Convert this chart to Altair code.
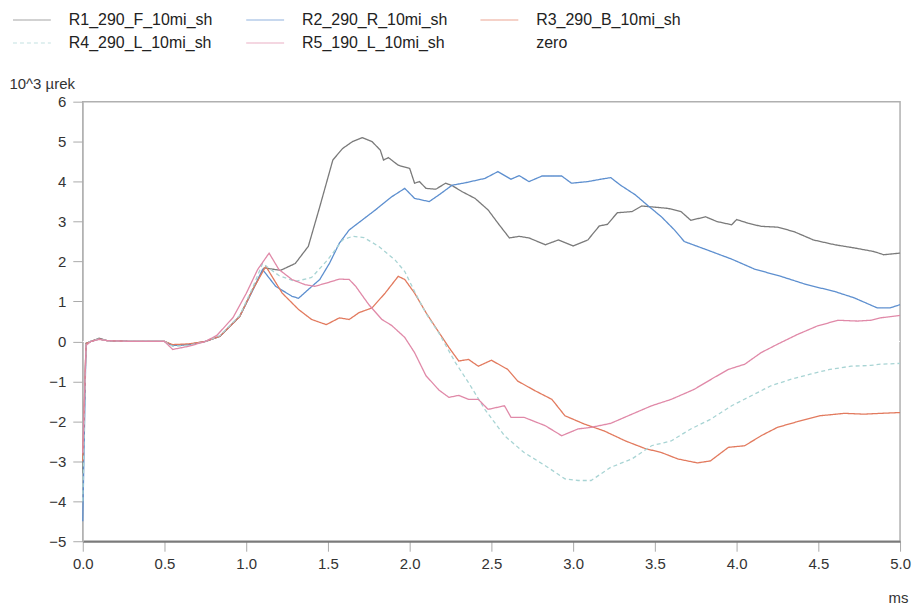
import altair as alt
import pandas as pd

SERIES = ["R1_290_F_10mi_sh", "R2_290_R_10mi_sh", "R3_290_B_10mi_sh",
          "R4_290_L_10mi_sh", "R5_190_L_10mi_sh", "zero"]
COLORS = ["#7a7a7a", "#5d8fcf", "#e27a5e", "#a8d4d4", "#e089a8", "#ffffff"]

r1_t = [0, 0.02, 0.05, 0.1, 0.15, 0.3, 0.5, 0.55, 0.65, 0.75, 0.84, 0.96, 1.04, 1.11, 1.21, 1.3,
        1.38, 1.45, 1.53, 1.59, 1.65, 1.71, 1.77, 1.82, 1.84, 1.87, 1.93, 2.0, 2.03, 2.06, 2.1,
        2.16, 2.22, 2.26, 2.32, 2.40, 2.48, 2.54, 2.61, 2.67, 2.73, 2.83, 2.91, 3.0, 3.09, 3.16,
        3.21, 3.27, 3.36, 3.42, 3.50, 3.58, 3.66, 3.72, 3.81, 3.88, 3.97, 4.0, 4.07, 4.15, 4.25,
        4.35, 4.47, 4.60, 4.72, 4.84, 4.90, 5.0]
r1_v = [-3.3, -0.05, 0.0, 0.08, 0.02, 0.0, 0.0, -0.1, -0.08, 0.0, 0.13, 0.63, 1.3, 1.84, 1.78, 1.95,
        2.38, 3.37, 4.54, 4.83, 5.0, 5.10, 5.0, 4.79, 4.54, 4.6, 4.41, 4.33, 3.96, 4.0, 3.83,
        3.81, 3.96, 3.9, 3.75, 3.58, 3.29, 2.96, 2.59, 2.63, 2.59, 2.42, 2.54, 2.39, 2.54, 2.89,
        2.93, 3.22, 3.25, 3.39, 3.36, 3.33, 3.25, 3.03, 3.12, 3.0, 2.92, 3.05, 2.96, 2.88, 2.86,
        2.75, 2.54, 2.42, 2.34, 2.25, 2.17, 2.21]

r2_t = [0, 0.02, 0.05, 0.1, 0.15, 0.3, 0.5, 0.55, 0.65, 0.75, 0.84, 0.96, 1.04, 1.10, 1.18, 1.28,
        1.32, 1.38, 1.45, 1.51, 1.57, 1.63, 1.71, 1.79, 1.89, 1.97, 2.03, 2.12, 2.18, 2.26, 2.34,
        2.46, 2.54, 2.62, 2.67, 2.73, 2.81, 2.93, 2.99, 3.09, 3.17, 3.23, 3.29, 3.38, 3.46, 3.54,
        3.62, 3.68, 3.82, 3.97, 4.11, 4.27, 4.43, 4.60, 4.72, 4.86, 4.94, 5.0]
r2_v = [-4.5, -0.05, 0.0, 0.06, 0.02, 0.0, 0.0, -0.1, -0.08, 0.0, 0.13, 0.62, 1.28, 1.80, 1.38, 1.13,
        1.08, 1.30, 1.55, 1.96, 2.46, 2.79, 3.04, 3.29, 3.62, 3.83, 3.58, 3.50, 3.67, 3.91, 3.97,
        4.08, 4.25, 4.06, 4.15, 4.0, 4.14, 4.14, 3.96, 4.0, 4.06, 4.1, 3.91, 3.67, 3.39, 3.12,
        2.79, 2.5, 2.29, 2.06, 1.81, 1.63, 1.42, 1.25, 1.09, 0.84, 0.84, 0.92]

r3_t = [0, 0.02, 0.05, 0.1, 0.15, 0.3, 0.5, 0.55, 0.65, 0.75, 0.84, 0.96, 1.04, 1.12, 1.22, 1.32,
        1.40, 1.49, 1.57, 1.63, 1.69, 1.77, 1.85, 1.93, 1.97, 2.03, 2.10, 2.18, 2.24, 2.30, 2.36,
        2.42, 2.50, 2.60, 2.66, 2.77, 2.87, 2.95, 3.07, 3.19, 3.32, 3.44, 3.54, 3.64, 3.76, 3.84,
        3.95, 4.05, 4.15, 4.25, 4.37, 4.51, 4.66, 4.78, 4.88, 5.0]
r3_v = [-3.0, -0.05, 0.0, 0.06, 0.02, 0.0, 0.0, -0.08, -0.06, 0.0, 0.13, 0.62, 1.3, 1.88, 1.21, 0.8,
        0.55, 0.42, 0.59, 0.55, 0.72, 0.84, 1.21, 1.63, 1.55, 1.21, 0.72, 0.22, -0.15, -0.49, -0.45,
        -0.62, -0.47, -0.70, -0.99, -1.24, -1.45, -1.86, -2.07, -2.24, -2.49, -2.68, -2.78, -2.94,
        -3.04, -2.99, -2.65, -2.61, -2.36, -2.15, -2.01, -1.86, -1.80, -1.82, -1.80, -1.78]

r4_t = [0, 0.02, 0.05, 0.1, 0.15, 0.3, 0.5, 0.55, 0.65, 0.75, 0.84, 0.96, 1.04, 1.10, 1.2, 1.3,
        1.4, 1.5, 1.59, 1.65, 1.72, 1.81, 1.91, 1.97, 2.03, 2.10, 2.18, 2.28, 2.36, 2.46, 2.58,
        2.70, 2.83, 2.95, 3.03, 3.11, 3.23, 3.36, 3.48, 3.60, 3.72, 3.84, 3.97, 4.09, 4.21, 4.33,
        4.45, 4.57, 4.70, 4.82, 4.88, 5.0]
r4_v = [-4.0, -0.05, 0.0, 0.06, 0.02, 0.0, 0.0, -0.12, -0.1, 0.0, 0.15, 0.65, 1.35, 1.95, 1.65, 1.5,
        1.6, 2.05, 2.54, 2.63, 2.6, 2.38, 2.04, 1.75, 1.25, 0.7, 0.2, -0.53, -1.03, -1.70, -2.36,
        -2.78, -3.11, -3.44, -3.48, -3.48, -3.15, -2.94, -2.61, -2.49, -2.19, -1.95, -1.61, -1.36,
        -1.11, -0.95, -0.82, -0.70, -0.62, -0.60, -0.57, -0.55]

r5_t = [0, 0.02, 0.05, 0.1, 0.15, 0.3, 0.5, 0.55, 0.65, 0.75, 0.82, 0.92, 1.0, 1.07, 1.14, 1.20,
        1.28, 1.36, 1.42, 1.49, 1.57, 1.63, 1.67, 1.75, 1.83, 1.89, 1.97, 2.03, 2.10, 2.18, 2.24,
        2.30, 2.36, 2.42, 2.48, 2.58, 2.62, 2.70, 2.83, 2.93, 3.03, 3.11, 3.23, 3.36, 3.48, 3.60,
        3.74, 3.86, 3.95, 4.05, 4.15, 4.25, 4.37, 4.49, 4.62, 4.74, 4.82, 4.88, 5.0]
r5_v = [-2.8, -0.1, 0.0, 0.05, 0.02, 0.0, 0.0, -0.2, -0.12, 0.0, 0.15, 0.6, 1.2, 1.8, 2.21, 1.8,
        1.55, 1.42, 1.38, 1.46, 1.56, 1.55, 1.38, 0.92, 0.55, 0.4, 0.1, -0.28, -0.86, -1.22, -1.4,
        -1.35, -1.45, -1.45, -1.70, -1.61, -1.90, -1.90, -2.11, -2.36, -2.19, -2.15, -2.05, -1.82,
        -1.61, -1.45, -1.20, -0.91, -0.70, -0.57, -0.28, -0.07, 0.17, 0.38, 0.53, 0.51, 0.53,
        0.59, 0.65]

zero_t = [0, 5]
zero_v = [0, 0]

X_TICKS = [0, 0.5, 1.0, 1.5, 2.0, 2.5, 3.0, 3.5, 4.0, 4.5, 5.0]
Y_TICKS = [-5, -4, -3, -2, -1, 0, 1, 2, 3, 4, 5, 6]

frames = []
for name, ts, vs in zip(SERIES, [r1_t, r2_t, r3_t, r4_t, r5_t, zero_t],
                        [r1_v, r2_v, r3_v, r4_v, r5_v, zero_v]):
    frames.append(pd.DataFrame({"t": ts, "v": vs, "series": name}))
df = pd.concat(frames, ignore_index=True)
df["order"] = df.index

FONT = "Liberation Sans"

x_enc = alt.X("t:Q", scale=alt.Scale(domain=[0, 5], nice=False),
              axis=alt.Axis(values=X_TICKS, format=".1f", title="ms", titleX=818, titleY=56,
                            titleAlign="center", titleBaseline="middle", labelFlush=False,
                            tickSize=10, labelPadding=5, domainColor="#7a7a7a", domainWidth=2,
                            tickColor="#aaaaaa", grid=False))
y_enc = alt.Y("v:Q", scale=alt.Scale(domain=[-5, 6], nice=False, zero=False),
              axis=alt.Axis(values=Y_TICKS, format="d", title="10^3 µrek", titleAngle=0,
                            titleX=-74, titleY=-18, titleAlign="left", titleBaseline="middle",
                            labelFlush=False, tickSize=10, labelPadding=7,
                            domainColor="#bbbbbb", tickColor="#aaaaaa", grid=False))
color_enc = alt.Color("series:N", scale=alt.Scale(domain=SERIES, range=COLORS),
                      legend=alt.Legend(title=None, orient="none", legendX=-71, legendY=-91,
                                        columns=3, direction="horizontal", symbolType="stroke",
                                        symbolSize=1444, symbolStrokeWidth=1.5,
                                        symbolOpacity=0.45, labelFontSize=16, labelOffset=17,
                                        columnPadding=32, rowPadding=5, padding=0,
                                        clipHeight=18,
                                        labelColor="#222222", labelLimit=300))
dash_enc = alt.StrokeDash("series:N",
                          scale=alt.Scale(domain=SERIES,
                                          range=[[1, 0], [1, 0], [1, 0], [4, 3], [1, 0], [1, 0]]),
                          legend=None)

zero_layer = alt.Chart(df[df["series"] == "zero"]).mark_line(strokeWidth=1).encode(
    x=x_enc, y=y_enc, color=color_enc, order="order:Q")
lines = alt.Chart(df[df["series"] != "zero"]).mark_line(strokeWidth=1.3).encode(
    x=x_enc, y=y_enc, color=color_enc, strokeDash=dash_enc, order="order:Q")

chart = alt.layer(zero_layer, lines).properties(
    width=820, height=441,
    autosize=alt.AutoSizeParams(type="none"),
    padding={"left": 75, "top": 93, "right": 14, "bottom": 66},
).configure_view(stroke="#b0b0b0", strokeWidth=1.5).configure_axis(
    labelFont=FONT, titleFont=FONT, labelFontSize=15, titleFontSize=15,
    labelColor="#333333", titleColor="#333333", titleFontWeight="normal"
).configure_legend(labelFont=FONT)

chart.save("out.html", embed_options={"renderer": "svg", "actions": False})
